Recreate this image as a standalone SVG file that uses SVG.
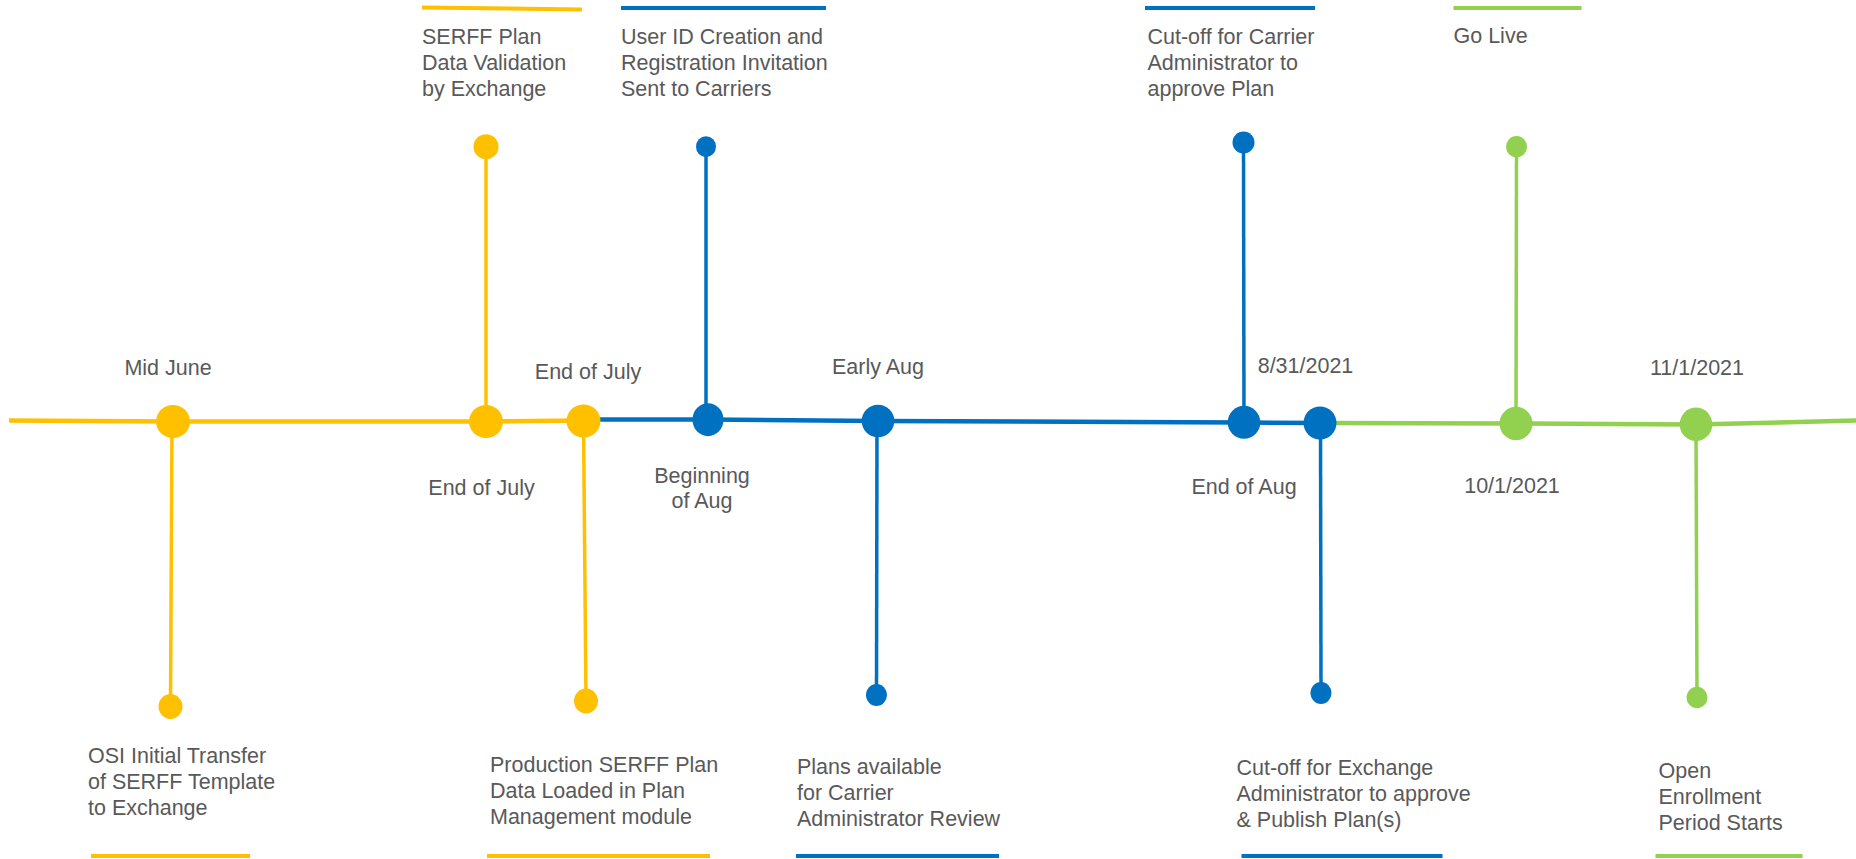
<svg xmlns="http://www.w3.org/2000/svg" width="1856" height="859" viewBox="0 0 1856 859">
<style>
.t{font-family:"Liberation Sans",Arial,sans-serif;font-size:21.5px;fill:#595959}
.m{text-anchor:middle}
.y{fill:#FFC000}.b{fill:#0070C0}.g{fill:#92D050}
.ys{stroke:#FFC000;fill:none}.bs{stroke:#0070C0;fill:none}.gs{stroke:#92D050;fill:none}
.main{stroke-width:4.5}
.stem{stroke-width:3.5}
.bar{stroke-width:4}
</style>
<rect width="1856" height="859" fill="#ffffff"/>
<g id="connectors">
<polyline class="ys main" points="9,420.5 173,421.5 486,421.5 584,420.5"/>
<polyline class="bs main" points="584,419.5 708,419.5 878,421 1244,422.5 1320,423"/>
<polyline class="gs main" points="1320,423 1516,423.5 1696,424.5 1856,420.5"/>
<line class="ys stem" x1="172" y1="421" x2="170.5" y2="706"/>
<line class="ys stem" x1="486" y1="421" x2="486" y2="147"/>
<line class="ys stem" x1="583.5" y1="421" x2="586" y2="701"/>
<line class="bs stem" x1="706" y1="420" x2="706" y2="147"/>
<line class="bs stem" x1="877" y1="421" x2="876.5" y2="695"/>
<line class="bs stem" x1="1244" y1="422" x2="1243.5" y2="142.5"/>
<line class="bs stem" x1="1320.5" y1="423" x2="1321" y2="693"/>
<line class="gs stem" x1="1516" y1="423" x2="1516.5" y2="146.5"/>
<line class="gs stem" x1="1696" y1="424" x2="1697" y2="697.5"/>
</g>
<g id="node-mid-june">
<ellipse class="y" cx="173" cy="421.5" rx="17" ry="16.5"/>
<ellipse class="y" cx="170.5" cy="706.5" rx="12" ry="12.5"/>
<text class="t m" x="168" y="375">Mid June</text>
<text class="t" x="88" y="763">OSI Initial Transfer</text>
<text class="t" x="88" y="789">of SERFF Template</text>
<text class="t" x="88" y="815">to Exchange</text>
<line class="ys bar" x1="91" y1="856" x2="250" y2="856"/>
</g>
<g id="node-serff-validation">
<ellipse class="y" cx="486" cy="421.5" rx="17" ry="16.5"/>
<ellipse class="y" cx="486" cy="146.7" rx="12.5" ry="12.5"/>
<text class="t m" x="481.5" y="495">End of July</text>
<text class="t" x="422" y="44">SERFF Plan</text>
<text class="t" x="422" y="70">Data Validation</text>
<text class="t" x="422" y="96">by Exchange</text>
<line class="ys bar" x1="422" y1="7.5" x2="582" y2="9.5"/>
</g>
<g id="node-production-load">
<ellipse class="y" cx="583.5" cy="421" rx="17" ry="16.5"/>
<ellipse class="y" cx="586" cy="701" rx="12" ry="12.5"/>
<text class="t m" x="588" y="379">End of July</text>
<text class="t" x="490" y="772">Production SERFF Plan</text>
<text class="t" x="490" y="798">Data Loaded in Plan</text>
<text class="t" x="490" y="824">Management module</text>
<line class="ys bar" x1="487" y1="856" x2="710" y2="856"/>
</g>
<g id="node-user-id">
<ellipse class="b" cx="708" cy="419.7" rx="15.5" ry="16.5"/>
<ellipse class="b" cx="706" cy="146.7" rx="10" ry="10.5"/>
<text class="t m" x="702" y="483">Beginning</text>
<text class="t m" x="702" y="508">of Aug</text>
<text class="t" x="621" y="44">User ID Creation and</text>
<text class="t" x="621" y="70">Registration Invitation</text>
<text class="t" x="621" y="96">Sent to Carriers</text>
<line class="bs bar" x1="621" y1="8" x2="826" y2="8"/>
</g>
<g id="node-plans-available">
<ellipse class="b" cx="878" cy="421" rx="16.3" ry="16.3"/>
<ellipse class="b" cx="876.5" cy="695" rx="10.5" ry="11"/>
<text class="t m" x="878" y="374">Early Aug</text>
<text class="t" x="797" y="774">Plans available</text>
<text class="t" x="797" y="800">for Carrier</text>
<text class="t" x="797" y="826">Administrator Review</text>
<line class="bs bar" x1="796" y1="856" x2="999" y2="856"/>
</g>
<g id="node-carrier-cutoff">
<ellipse class="b" cx="1244" cy="422.3" rx="16.3" ry="16.5"/>
<ellipse class="b" cx="1243.5" cy="142.5" rx="11" ry="11"/>
<text class="t m" x="1305.5" y="373">8/31/2021</text>
<text class="t" x="1147.5" y="44">Cut-off for Carrier</text>
<text class="t" x="1147.5" y="70">Administrator to</text>
<text class="t" x="1147.5" y="96">approve Plan</text>
<line class="bs bar" x1="1145" y1="8" x2="1315" y2="8"/>
</g>
<g id="node-exchange-cutoff">
<ellipse class="b" cx="1320" cy="423" rx="16.5" ry="16.5"/>
<ellipse class="b" cx="1321" cy="693" rx="10.5" ry="11"/>
<text class="t m" x="1244" y="494">End of Aug</text>
<text class="t" x="1236.5" y="775">Cut-off for Exchange</text>
<text class="t" x="1236.5" y="801">Administrator to approve</text>
<text class="t" x="1236.5" y="827">&amp; Publish Plan(s)</text>
<line class="bs bar" x1="1241.5" y1="856" x2="1442.5" y2="856"/>
</g>
<g id="node-go-live">
<ellipse class="g" cx="1516" cy="423.5" rx="16.5" ry="16.7"/>
<ellipse class="g" cx="1516.5" cy="146.7" rx="10.5" ry="10.7"/>
<text class="t m" x="1512" y="493">10/1/2021</text>
<text class="t" x="1453.5" y="43">Go Live</text>
<line class="gs bar" x1="1453.5" y1="8" x2="1581.5" y2="8"/>
</g>
<g id="node-open-enrollment">
<ellipse class="g" cx="1696" cy="424.3" rx="16.3" ry="16.7"/>
<ellipse class="g" cx="1697" cy="697.5" rx="10.5" ry="10.7"/>
<text class="t m" x="1697" y="375">11/1/2021</text>
<text class="t" x="1658.5" y="778">Open</text>
<text class="t" x="1658.5" y="804">Enrollment</text>
<text class="t" x="1658.5" y="830">Period Starts</text>
<line class="gs bar" x1="1655.5" y1="856" x2="1802.5" y2="856"/>
</g>
</svg>
